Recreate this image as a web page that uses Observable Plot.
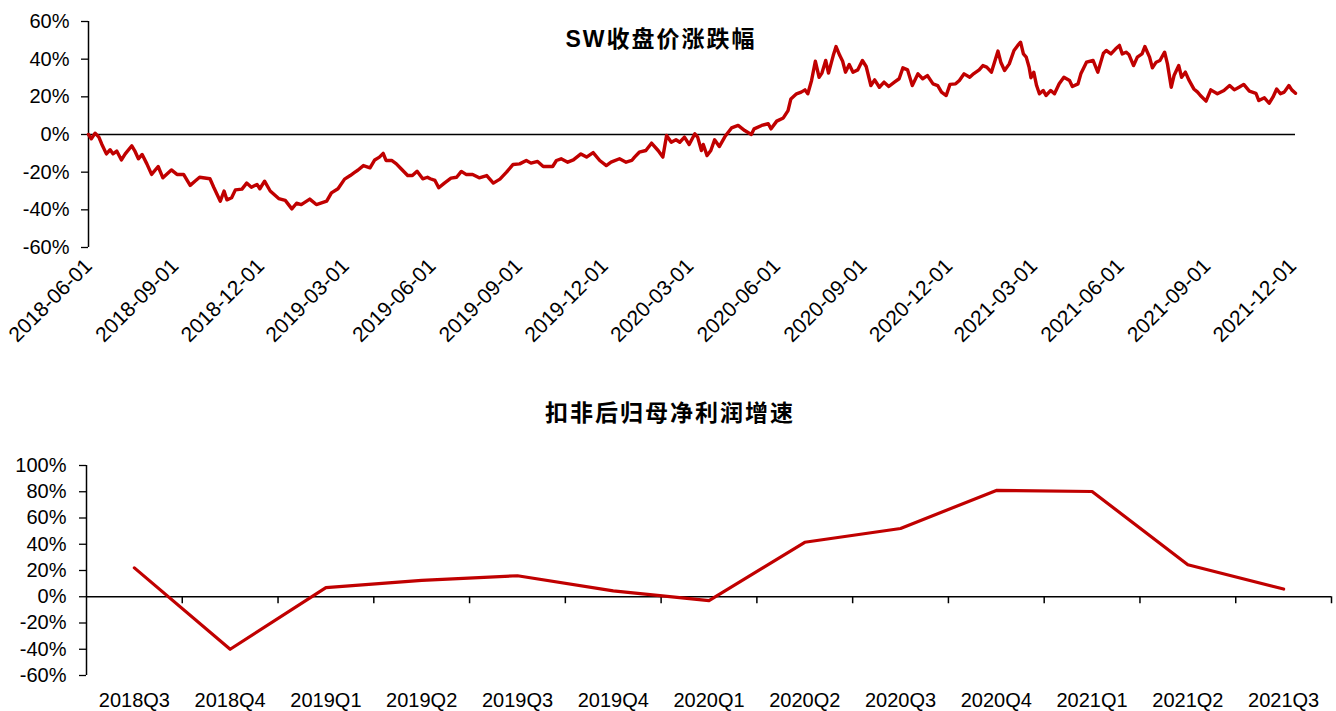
<!DOCTYPE html>
<html><head><meta charset="utf-8">
<script src="https://cdn.jsdelivr.net/npm/d3@7"></script>
<script src="https://cdn.jsdelivr.net/npm/@observablehq/plot@0.6"></script>
<style>
body{margin:0;background:#fff;}
#wrap{position:relative;width:1336px;height:711px;overflow:hidden;background:#fff;}
#topChart{position:absolute;left:0;top:0;}
#bottomChart{position:absolute;left:0;top:380px;}
</style></head><body><div id="wrap"><div id="topChart"></div><div id="bottomChart"></div></div>
<script>
// ---- data: SW closing price change (%) ----
const priceDates = [
"2018-06-01","2018-06-04","2018-06-08","2018-06-12","2018-06-15","2018-06-20","2018-06-24","2018-06-27","2018-07-01","2018-07-06",
"2018-07-10","2018-07-17","2018-07-20","2018-07-24","2018-07-28","2018-08-02","2018-08-07","2018-08-14","2018-08-19","2018-08-28",
"2018-09-03","2018-09-10","2018-09-17","2018-09-22","2018-09-27","2018-10-08","2018-10-12","2018-10-19","2018-10-23","2018-10-26",
"2018-10-31","2018-11-04","2018-11-11","2018-11-16","2018-11-21","2018-11-27","2018-11-30","2018-12-05","2018-12-11","2018-12-20",
"2018-12-27","2019-01-03","2019-01-08","2019-01-13","2019-01-22","2019-01-29","2019-02-09","2019-02-14","2019-02-21","2019-02-28",
"2019-03-06","2019-03-11","2019-03-14","2019-03-20","2019-03-27","2019-04-01","2019-04-06","2019-04-10","2019-04-13","2019-04-19",
"2019-04-24","2019-04-29","2019-05-06","2019-05-11","2019-05-16","2019-05-22","2019-05-27","2019-05-30","2019-06-04","2019-06-08",
"2019-06-14","2019-06-21","2019-06-27","2019-07-02","2019-07-07","2019-07-14","2019-07-21","2019-07-29","2019-08-05","2019-08-12",
"2019-08-19","2019-08-26","2019-09-02","2019-09-09","2019-09-14","2019-09-21","2019-09-27","2019-10-07","2019-10-11","2019-10-16",
"2019-10-23","2019-10-29","2019-11-06","2019-11-12","2019-11-19","2019-11-26","2019-12-03","2019-12-08","2019-12-17","2019-12-24",
"2019-12-30","2020-01-02","2020-01-07","2020-01-14","2020-01-20","2020-01-27","2020-02-01","2020-02-05","2020-02-10","2020-02-15",
"2020-02-19","2020-02-24","2020-02-29","2020-03-06","2020-03-09","2020-03-13","2020-03-15","2020-03-19","2020-03-23","2020-03-27",
"2020-04-01","2020-04-07","2020-04-14","2020-04-21","2020-04-28","2020-05-05","2020-05-08","2020-05-16","2020-05-23","2020-05-26",
"2020-06-01","2020-06-08","2020-06-13","2020-06-16","2020-06-22","2020-06-27","2020-07-01","2020-07-04","2020-07-08","2020-07-12",
"2020-07-16","2020-07-19","2020-07-23","2020-07-26","2020-07-31","2020-08-03","2020-08-07","2020-08-10","2020-08-13","2020-08-17",
"2020-08-21","2020-08-26","2020-08-31","2020-09-04","2020-09-09","2020-09-13","2020-09-18","2020-09-23","2020-09-28","2020-10-04",
"2020-10-09","2020-10-13","2020-10-18","2020-10-23","2020-10-29","2020-11-03","2020-11-08","2020-11-14","2020-11-19","2020-11-23",
"2020-11-28","2020-12-02","2020-12-08","2020-12-12","2020-12-17","2020-12-23","2020-12-27","2021-01-02","2021-01-06","2021-01-10",
"2021-01-15","2021-01-22","2021-01-25","2021-01-29","2021-02-03","2021-02-08","2021-02-12","2021-02-15","2021-02-18","2021-02-21",
"2021-02-24","2021-02-26","2021-03-01","2021-03-04","2021-03-07","2021-03-11","2021-03-14","2021-03-19","2021-03-23","2021-03-28",
"2021-04-02","2021-04-08","2021-04-11","2021-04-17","2021-04-20","2021-04-26","2021-05-03","2021-05-08","2021-05-14","2021-05-17",
"2021-05-22","2021-05-27","2021-05-31","2021-06-03","2021-06-07","2021-06-10","2021-06-15","2021-06-19","2021-06-24","2021-06-27",
"2021-07-02","2021-07-05","2021-07-09","2021-07-13","2021-07-18","2021-07-21","2021-07-25","2021-07-28","2021-08-02","2021-08-05",
"2021-08-09","2021-08-13","2021-08-18","2021-08-22","2021-08-25","2021-08-31","2021-09-05","2021-09-12","2021-09-19","2021-09-25",
"2021-09-30","2021-10-05","2021-10-10","2021-10-16","2021-10-23","2021-10-26","2021-11-01","2021-11-06","2021-11-10","2021-11-14",
"2021-11-18","2021-11-22","2021-11-27","2021-11-30","2021-12-04"
];
const priceChange = [
0,-2.3,0.7,-1.4,-5,-10.3,-8.1,-10.3,-8.8,-13.5,
-10.3,-6,-8.5,-12.9,-10.6,-15.6,-21.2,-17,-23,-18.8,
-21.2,-21.2,-27,-24.8,-22.7,-23.5,-28,-35.4,-30,-34.7,
-33.6,-29.4,-29,-25.8,-28,-26.5,-28.8,-24.8,-30,-34,
-35,-39.5,-36.5,-37.2,-34.3,-37.2,-35.4,-31,-28.8,-23.7,
-21.8,-20,-19,-16.5,-17.7,-13.5,-12,-10,-13.8,-13.8,
-15.6,-18.2,-21.8,-21.8,-19.5,-23.5,-22.7,-23.5,-24.4,-28.3,
-25.8,-23.2,-22.7,-19.6,-21.2,-21.2,-23,-21.8,-25.8,-23.7,
-20,-15.9,-15.6,-13.8,-15.2,-14.3,-17,-17,-13.8,-12.9,
-14.7,-13.5,-10.3,-12,-9.6,-13.8,-16.5,-14.7,-12.9,-14.7,
-13.8,-12,-9.4,-8.5,-4.6,-8.5,-12,-0.5,-4.1,-2.8,
-4.1,-1.4,-5.3,0.4,-1.4,-8.5,-5.3,-11.2,-8.5,-2.8,
-6.4,-1.1,3.5,4.8,2.1,0,3,4.8,5.7,3,
7.1,8.8,12.7,18.9,21.6,22.5,23.7,21.6,28.7,38.9,
30.4,32.6,39.3,32.6,41.9,46.7,41.9,38.9,33.1,37.2,
33.1,34.3,39.3,36.1,26,29,25.1,27.8,25.5,27.8,
29.6,35.4,34.3,26,32.2,29.6,31.3,26.9,26,22.5,
20.7,26.6,26.9,28.7,32.2,30.4,32.2,34.3,36.6,35.8,
33.1,44.3,38.4,34,37.5,44.6,47.3,49,42.8,41.1,
35.8,30.1,33.1,26,21.6,23.4,20.7,23.4,21.6,26.9,
30.4,28.7,25.5,26.9,32.2,38.4,39.3,33.1,43.2,44.6,
42.8,45.5,47.3,42.8,43.7,42.5,36.6,41.1,42.8,46.7,
41.1,35.4,38.4,39.3,43.7,37.5,25.1,31.3,36.6,30.4,
33.1,28.7,24.2,22.5,20.7,17.7,23.7,21.6,23.4,26,
23.7,25.1,26.6,23,21.9,18,19.5,16.6,19.8,24.2,
21.6,22.5,26,23.7,21.9
];
const dateTicks = ["2018-06-01","2018-09-01","2018-12-01","2019-03-01","2019-06-01","2019-09-01","2019-12-01",
  "2020-03-01","2020-06-01","2020-09-01","2020-12-01","2021-03-01","2021-06-01","2021-09-01","2021-12-01"];
const priceTicks = [-60, -40, -20, 0, 20, 40, 60];

// ---- data: deducted net profit growth (%) ----
const quarters = ["2018Q3","2018Q4","2019Q1","2019Q2","2019Q3","2019Q4","2020Q1","2020Q2","2020Q3","2020Q4","2021Q1","2021Q2","2021Q3"];
const profitGrowth = [22, -40, 7, 12.5, 16, 4.5, -3, 41.5, 52, 81, 80.2, 24.4, 5.9];
const growthTicks = [-60, -40, -20, 0, 20, 40, 60, 80, 100];

const topTitle = "SW收盘价涨跌幅";
const bottomTitle = "扣非后归母净利润增速";

const parse = d3.utcParse("%Y-%m-%d");
const priceData = priceDates.map((d, i) => ({date: parse(d), value: priceChange[i]}));
const growthData = quarters.map((q, i) => ({pos: i + 0.5, value: profitGrowth[i]}));
const red = "#C00000";
const font = "'Liberation Sans', Arial, 'Noto Sans CJK SC', sans-serif";
const titleFont = "'Liberation Sans', 'Noto Sans CJK SC', sans-serif";

const topChart = Plot.plot({
  width: 1336, height: 380,
  marginLeft: 88, marginRight: 41, marginTop: 21, marginBottom: 133,
  style: {fontFamily: font, fontSize: "20px", color: "#000", background: "#fff", overflow: "visible"},
  x: {type: "utc", domain: [parse("2018-06-01"), parse(priceDates[priceDates.length - 1])]},
  y: {domain: [-60, 60]},
  marks: [
    Plot.axisY({ticks: priceTicks, tickFormat: d => d + "%", tickSize: 7, tickPadding: 12, label: null, stroke: "#000", strokeWidth: 1.3}),
    Plot.axisX({ticks: dateTicks.map(parse), tickFormat: d3.utcFormat("%Y-%m-%d"), tickSize: 0, tickRotate: -45, tickPadding: 15, fontSize: 21, label: null}),
    Plot.ruleX([parse("2018-06-01")], {stroke: "#000", strokeWidth: 1.5}),
    Plot.ruleY([0], {stroke: "#000", strokeWidth: 1.5}),
    Plot.line(priceData, {x: "date", y: "value", stroke: red, strokeWidth: 3.4, strokeLinejoin: "round"}),
    Plot.text([topTitle], {text: d => d, frameAnchor: "top", dx: -31, dy: 9, fontSize: 23, fontWeight: "bold", fontFamily: titleFont, fill: "#000"})
  ]
});

const bottomChart = Plot.plot({
  width: 1336, height: 331,
  marginLeft: 86, marginRight: 5, marginTop: 85, marginBottom: 36,
  style: {fontFamily: font, fontSize: "20px", color: "#000", background: "#fff", overflow: "visible"},
  x: {domain: [0, quarters.length]},
  y: {domain: [-60, 100]},
  marks: [
    Plot.axisY({ticks: growthTicks, tickFormat: d => d + "%", tickSize: 7, tickPadding: 13, label: null, stroke: "#000", strokeWidth: 1.3}),
    Plot.axisX({ticks: growthData.map(d => d.pos), tickFormat: d => quarters[Math.floor(d)], tickSize: 0, tickPadding: 17, label: null}),
    Plot.ruleX([0], {stroke: "#000", strokeWidth: 1.5}),
    Plot.ruleY([0], {stroke: "#000", strokeWidth: 1.5}),
    Plot.ruleX(d3.range(1, quarters.length + 1), {x: d => d, y1: 0, y2: 0, insetBottom: -7, stroke: "#000", strokeWidth: 1.5}),
    Plot.line(growthData, {x: "pos", y: "value", stroke: red, strokeWidth: 3.2}),
    Plot.text([bottomTitle], {text: d => d, frameAnchor: "top", dx: -39, dy: -61, fontSize: 23, fontWeight: "bold", fontFamily: titleFont, fill: "#000"})
  ]
});

document.getElementById("topChart").appendChild(topChart);
document.getElementById("bottomChart").appendChild(bottomChart);
for (const svg of [topChart, bottomChart]) {
  d3.select(svg).selectAll("text").filter(function() { return this.textContent === topTitle || this.textContent === bottomTitle; })
    .attr("letter-spacing", "2px");
}
</script></body></html>
